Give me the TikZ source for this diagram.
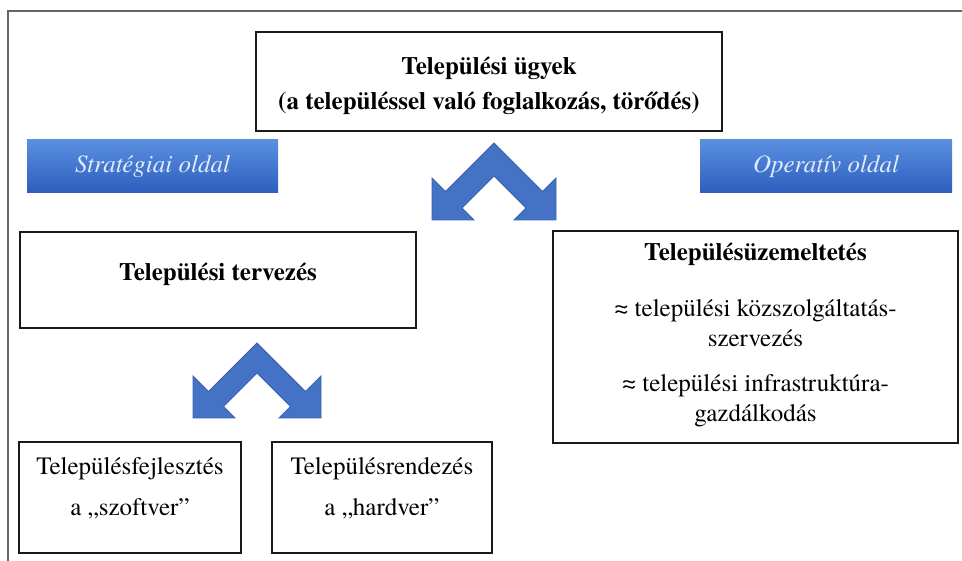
\documentclass[tikz,border=0pt]{standalone}
\usepackage{fontspec}
\setmainfont{TeX Gyre Termes}
\begin{document}
\begin{tikzpicture}[x=1pt,y=-1pt,
  box/.style={draw=black!90, line width=2.2pt, inner sep=0pt},
  txt/.style={align=center, font=\fontsize{25}{30}\selectfont, inner sep=0pt},
  side/.style={draw=none, top color=blue1, bottom color=blue2, font=\fontsize{25}{30}\selectfont\itshape, text=sidetext, inner sep=0pt},
  chev/.style={fill=arrowblue, draw=arrowedge, line width=0.8pt, line join=miter}]
\definecolor{blue1}{HTML}{5A8FE0}
\definecolor{blue2}{HTML}{2D5EBE}
\definecolor{sidetext}{HTML}{E2ECFB}
\definecolor{arrowblue}{HTML}{4472C4}
\definecolor{arrowedge}{HTML}{3A62AE}
\useasboundingbox (0,0) rectangle (962,561);
\fill[white] (0,0) rectangle (962,561);
% outer frame
\draw[gray!80!black, line width=1.3pt] (8,561) -- (8,11) -- (962,11);

% top box
\node[box, minimum width=466pt, minimum height=99pt] (top) at (489,81.5) {};
\node[txt, font=\fontsize{25}{30}\selectfont\bfseries] (toptxt) at ([yshift=-4pt]top.center)
  {Települési ügyek\\[5pt] (a településsel való foglalkozás, törődés)};

% side labels
\node[side, minimum width=251pt, minimum height=53pt] (strat) at (152.5,166.5) {Stratégiai oldal};
\node[side, minimum width=252pt, minimum height=53pt] (oper) at (826,166.5) {Operatív oldal};

% top chevron arrow
\draw[chev] (494,143) -- (542.5,191.5) -- (556,178) -- (556,220) -- (514,220) -- (526,208)
  -- (494,176) -- (462,208) -- (474,220) -- (432,220) -- (432,178) -- (445.5,191.5) -- cycle;

% planning box
\node[box, minimum width=396pt, minimum height=96pt] (terv) at (218,280) {};
\node[txt, font=\fontsize{25}{30}\selectfont\bfseries] (tervtxt) at ([yshift=6pt]terv.center)
  {Települési tervezés};

% operation box
\node[box, minimum width=405pt, minimum height=212pt] (uzem) at (755.5,337) {};
\node[txt] (uzemtxt) at ([yshift=2pt]uzem.center)
  {\textbf{Településüzemeltetés}\\[26pt]
   ≈ települési közszolgáltatás-\\
   szervezés\\[15pt]
   ≈ települési infrastruktúra-\\
   gazdálkodás};

% bottom chevron arrow
\draw[chev] (257,343) -- (305.5,391.5) -- (321,376) -- (321,418) -- (279,418) -- (290.5,406.5)
  -- (257,373) -- (223.5,406.5) -- (235,418) -- (193,418) -- (193,376) -- (208.5,391.5) -- cycle;

% bottom boxes
\node[box, minimum width=222pt, minimum height=111pt] (fejl) at (130,497.5) {};
\node[txt] (fejltxt) at ([yshift=9pt]fejl.center) {Településfejlesztés\\[11pt] a „szoftver”};
\node[box, minimum width=220pt, minimum height=111pt] (rend) at (382,497.5) {};
\node[txt] (rendtxt) at ([yshift=9pt]rend.center) {Településrendezés\\[11pt] a „hardver”};
\end{tikzpicture}
\end{document}
